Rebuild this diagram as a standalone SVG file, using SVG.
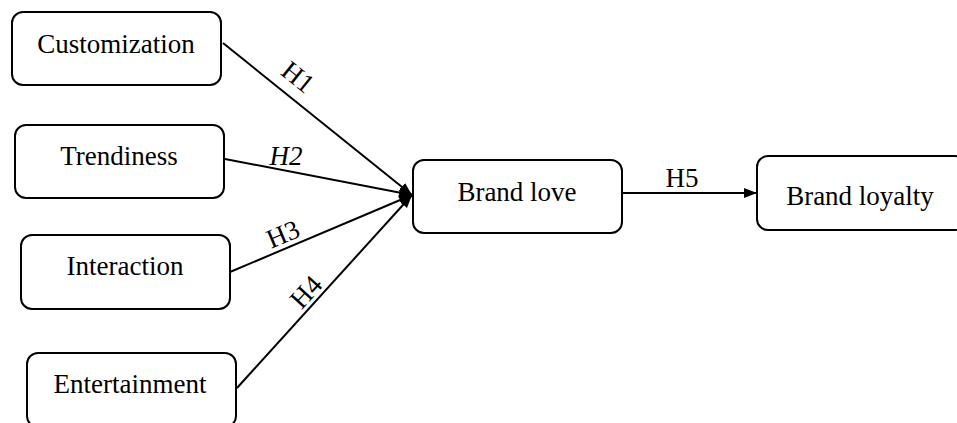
<svg xmlns="http://www.w3.org/2000/svg" width="957" height="423" viewBox="0 0 957 423">
<style>
.box{fill:#fff;stroke:#000;stroke-width:2}
.lbl{font-family:"Liberation Serif","Times New Roman",serif;font-size:27px;fill:#000;text-anchor:middle}
.edge{stroke:#000;stroke-width:2;fill:none;marker-end:url(#arr)}
</style>
<defs>
<marker id="arr" markerUnits="userSpaceOnUse" markerWidth="14" markerHeight="11" refX="13" refY="5" orient="auto">
<path d="M0,0 L13,5 L0,10 z" fill="#000"/>
</marker>
</defs>
<rect width="957" height="423" fill="#fff"/>
<g id="connectors">
<line class="edge" x1="223" y1="43" x2="412" y2="195"/>
<line class="edge" x1="225" y1="159" x2="412" y2="195"/>
<line class="edge" x1="230" y1="272" x2="412" y2="195"/>
<line class="edge" x1="237" y1="388" x2="412" y2="195"/>
<line class="edge" x1="622" y1="193" x2="757" y2="193"/>
<text class="lbl" transform="translate(298,77) rotate(38.7)" x="0" y="9">H1</text>
<text class="lbl" x="286" y="165" font-style="italic">H2</text>
<text class="lbl" transform="translate(283,234) rotate(-22.8)" x="0" y="9">H3</text>
<text class="lbl" transform="translate(306,292) rotate(-47.6)" x="0" y="9">H4</text>
<text class="lbl" x="682" y="187">H5</text>
</g>
<g id="customization">
<rect class="box" x="12" y="12" width="209" height="73" rx="11"/>
<text class="lbl" x="116" y="53">Customization</text>
</g>
<g id="trendiness">
<rect class="box" x="15" y="125" width="209" height="73" rx="11"/>
<text class="lbl" x="119" y="165">Trendiness</text>
</g>
<g id="interaction">
<rect class="box" x="21" y="235" width="209" height="74" rx="11"/>
<text class="lbl" x="125" y="275">Interaction</text>
</g>
<g id="entertainment">
<rect class="box" x="27" y="353" width="209" height="74" rx="11"/>
<text class="lbl" x="130" y="393">Entertainment</text>
</g>
<g id="brand-love">
<rect class="box" x="413" y="160" width="209" height="73" rx="11"/>
<text class="lbl" x="517" y="201">Brand love</text>
</g>
<g id="brand-loyalty">
<rect class="box" x="757" y="156" width="209" height="74" rx="11"/>
<text class="lbl" x="860" y="205">Brand loyalty</text>
</g>
</svg>
